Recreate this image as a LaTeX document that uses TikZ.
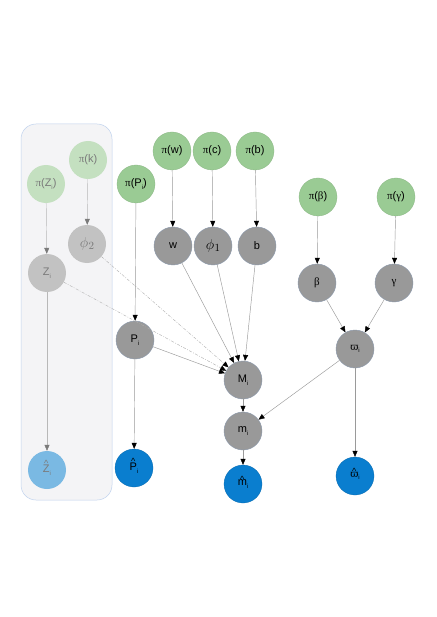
\documentclass[tikz,border=0pt]{standalone}
\usepackage{fontspec}
\setmainfont{Liberation Sans}
\newfontfamily\ser{Liberation Serif}
\newfontfamily\grk{DejaVu Serif}
\usetikzlibrary{arrows.meta}
\definecolor{pgreen}{HTML}{9ACB94}
\definecolor{pgray}{HTML}{999999}
\definecolor{pblue}{HTML}{0A7ECF}
\definecolor{fgreen}{HTML}{C4E0C0}
\definecolor{fgray}{HTML}{C2C2C2}
\definecolor{fblue}{HTML}{7AB9E3}
\definecolor{ftext}{HTML}{7A7A7A}
\definecolor{boxfill}{HTML}{F4F4F6}
\definecolor{boxline}{HTML}{C0D2EE}
\definecolor{edge}{HTML}{9A9A9A}
\definecolor{nodeline}{HTML}{8C9AAE}
\newcommand\sbi{\raisebox{-0.45ex}{\fontsize{6}{6}\selectfont i}}
\newcommand\hatit[2][5.5pt]{\ooalign{#2\cr\hidewidth\raisebox{#1}{\fontsize{9}{9}\selectfont\textasciicircum}\hidewidth\cr}}
\newcommand\phiof[1]{{\fontsize{15}{15}\selectfont$\phi$}\kern0.5pt\raisebox{-2pt}{\fontsize{11}{11}\selectfont$#1$}}
\tikzset{
  x=1pt, y=-1pt,
  var/.style={circle, minimum size=38pt, inner sep=0pt, font=\fontsize{11}{11}\selectfont},
  prior/.style={var, fill=pgreen, draw=pgreen!90!black, line width=0.3pt},
  latent/.style={var, fill=pgray, draw=nodeline, line width=0.4pt},
  obs/.style={var, fill=pblue, draw=pblue!85!black, line width=0.3pt},
  fprior/.style={var, fill=fgreen, text=ftext},
  flatent/.style={var, fill=fgray, text=ftext},
  fobs/.style={var, fill=fblue, text=ftext},
  arr/.style={draw=edge, line width=0.45pt, -{Triangle[length=6pt,width=5pt,color=black,fill=black]}},
  farr/.style={draw=edge!70, line width=0.45pt, -{Triangle[length=6pt,width=5pt,color=ftext,fill=ftext]}},
  darr/.style={draw=edge!80, line width=0.4pt, dash pattern=on 3pt off 1.5pt on 0.8pt off 1.5pt, -{Triangle[length=6pt,width=5pt,color=black,fill=black]}},
}
\begin{document}
\begin{tikzpicture}
\useasboundingbox (0,0) rectangle (436,617);
\fill[white] (0,0) rectangle (436,617);
% faded box
\draw[boxline, fill=boxfill, line width=0.5pt, rounded corners=15pt] (21,124) rectangle (112,500);
\node[fprior] (piZ) at (46,184) {{\ser π}(Z\sbi)};
\node[fprior] (pik) at (88,160) {{\ser π}(k)};
\node[flatent] (phi2) at (87,244) {\phiof{2}};
\node[flatent] (Z) at (47,273) {Z\sbi};
\node[fobs] (Zh) at (47,470) {\hatit{Z}\sbi};
% main
\node[prior] (piP) at (136,184) {{\ser π}(P\sbi)};
\node[prior] (piw) at (172,151) {{\ser π}(w)};
\node[prior] (pic) at (212,151) {{\ser π}(c)};
\node[prior] (pib) at (255,151) {{\ser π}(b)};
\node[latent] (w) at (173,246) {w};
\node[latent] (phi1) at (213,246) {\phiof{1}};
\node[latent] (b) at (257,246) {b};
\node[prior] (pibeta) at (318,197) {{\ser π}({\ser β})};
\node[prior] (pigamma) at (396,197) {{\ser π}({\ser γ})};
\node[latent] (beta) at (317,283) {{\ser β}};
\node[latent] (gamma) at (394,283) {{\ser γ}};
\node[latent] (vp) at (355,349) {{\grk\fontsize{10}{10}\selectfont ϖ}\sbi};
\node[latent] (P) at (135,340) {P\sbi};
\node[latent] (M) at (243,380) {M\sbi};
\node[latent] (m) at (243,431) {m\sbi};
\node[obs] (Ph) at (134,468) {\hatit{P}\sbi};
\node[obs] (mh) at (243,484) {\hatit[3pt]{m}\sbi};
\node[obs] (vph) at (355,476) {\hatit[3pt]{{\grk\fontsize{10}{10}\selectfont ϖ}}\sbi};
% faded edges
\draw[farr] (piZ) -- (Z);
\draw[farr] (Z) -- (Zh);
\draw[farr] (pik) -- (phi2);
\draw[darr] (phi2) -- (M);
\draw[darr] (Z) -- (M);
% main edges
\draw[arr] (piP) -- (P);
\draw[arr] (P) -- (Ph);
\draw[arr] (P) -- (M);
\draw[arr] (piw) -- (w);
\draw[arr] (pic) -- (phi1);
\draw[arr] (pib) -- (b);
\draw[arr] (w) -- (M);
\draw[arr] (phi1) -- (M);
\draw[arr] (b) -- (M);
\draw[arr] (pibeta) -- (beta);
\draw[arr] (pigamma) -- (gamma);
\draw[arr] (beta) -- (vp);
\draw[arr] (gamma) -- (vp);
\draw[arr] (vp) -- (m);
\draw[arr] (M) -- (m);
\draw[arr] (m) -- (mh);
\draw[arr] (vp) -- (vph);
\end{tikzpicture}
\end{document}
